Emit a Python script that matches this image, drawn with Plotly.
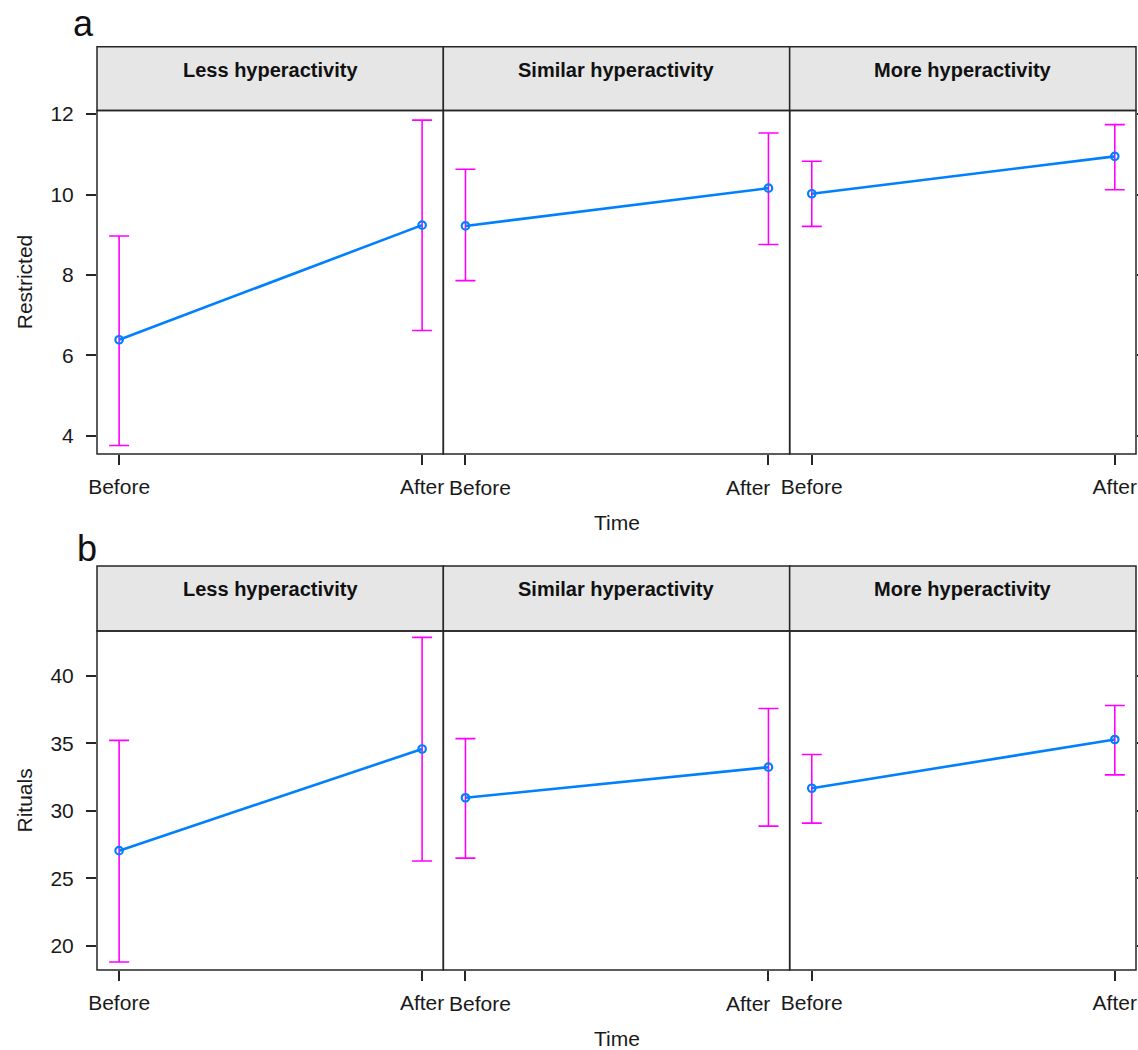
import plotly.graph_objects as go

W, H = 1138, 1050

# ---------------- data ----------------
categories = ["Before", "After"]
panel_titles = ["Less hyperactivity", "Similar hyperactivity", "More hyperactivity"]

restricted_mean = [[6.39, 9.24], [9.22, 10.16], [10.02, 10.95]]
restricted_lower = [[3.76, 6.62], [7.86, 8.76], [9.21, 10.12]]
restricted_upper = [[8.97, 11.85], [10.63, 11.53], [10.83, 11.74]]

rituals_mean = [[27.05, 34.59], [30.97, 33.24], [31.68, 35.29]]
rituals_lower = [[18.79, 26.28], [26.50, 28.87], [29.09, 32.67]]
rituals_upper = [[35.23, 42.87], [35.36, 37.59], [34.18, 37.81]]

restricted_ticks = [4, 6, 8, 10, 12]
rituals_ticks = [20, 25, 30, 35, 40]

# ---------------- layout geometry (pixels) ----------------
LEFT, RIGHT = 97, 1136
PW = (RIGHT - LEFT) / 3.0
rows = [
    dict(label="a", ylab="Restricted", strip_top=46.7, plot_top=110.5, plot_bottom=454,
         yrange=[3.55, 12.09], ticks=restricted_ticks,
         mean=restricted_mean, lo=restricted_lower, hi=restricted_upper,
         letter_y=23.4, strip_text_y=69.7, time_y=522.6),
    dict(label="b", ylab="Rituals", strip_top=566, plot_top=631, plot_bottom=970,
         yrange=[18.2, 43.34], ticks=rituals_ticks,
         mean=rituals_mean, lo=rituals_lower, hi=rituals_upper,
         letter_y=548.4, strip_text_y=588.7, time_y=1038.6),
]

BLUE = "#0080ff"
MAGENTA = "#ff00ff"
AXC = "#262626"
TXT = "#1a1a1a"
FONT = "Liberation Sans, Arial, sans-serif"


def fx(p):
    return p / W


def fy(p):
    return 1 - p / H


fig = go.Figure()
layout = dict(
    width=W, height=H, margin=dict(l=0, r=0, t=0, b=0),
    paper_bgcolor="white", plot_bgcolor="white", showlegend=False,
    font=dict(family=FONT, size=21, color=TXT),
)
shapes = []
annotations = []

idx = 0
for r, row in enumerate(rows):
    for c in range(3):
        idx += 1
        sx = "" if idx == 1 else str(idx)
        xa, ya = "x" + sx, "y" + sx
        mean = row["mean"][c]
        err_hi = [h - m for h, m in zip(row["hi"][c], mean)]
        err_lo = [m - l for l, m in zip(row["lo"][c], mean)]
        fig.add_trace(go.Scatter(
            x=categories, y=mean, xaxis=xa, yaxis=ya, mode="lines+markers",
            line=dict(color=BLUE, width=2.6),
            marker=dict(symbol="circle-open", size=7.5, color=BLUE, line=dict(width=2.2, color=BLUE)),
            error_y=dict(type="data", symmetric=False, array=err_hi, arrayminus=err_lo,
                         color=MAGENTA, thickness=1.6, width=10),
            hoverinfo="skip",
        ))
        x0 = LEFT + c * PW
        x1 = x0 + PW
        layout["xaxis" + sx] = dict(
            domain=[fx(x0), fx(x1)], anchor=ya, type="category",
            range=[-0.073, 1.07], tickmode="array", tickvals=categories, ticktext=categories,
            ticks="outside", ticklen=10, tickwidth=1.5, tickcolor=AXC,
            showticklabels=(c != 1),
            showline=False, showgrid=False, zeroline=False, automargin=False, fixedrange=True,
            tickfont=dict(size=21, color=TXT), ticklabelstandoff=4,
        )
        yd = dict(
            domain=[fy(row["plot_bottom"]), fy(row["plot_top"])], anchor=xa,
            range=row["yrange"], tickmode="array", tickvals=row["ticks"],
            showline=False, showgrid=False, zeroline=False, automargin=False, fixedrange=True,
            tickfont=dict(size=21, color=TXT),
        )
        if c == 0:
            yd.update(ticks="outside", ticklen=10, tickwidth=1.5, tickcolor=AXC,
                      showticklabels=True, ticklabelstandoff=8)
        elif c == 2:
            yd.update(side="right", ticks="outside", ticklen=10, tickwidth=1.5,
                      tickcolor=AXC, showticklabels=False)
        else:
            yd.update(ticks="", showticklabels=False)
        layout["yaxis" + sx] = yd

        # middle panel: tick labels nudged apart from neighbours (as in the reference)
        if c == 1:
            for k, (cat, shift) in enumerate(zip(categories, [15, -20])):
                annotations.append(dict(text=cat, xref=xa, yref="paper", x=k,
                                        y=fy(row["plot_bottom"] + 33.5), xshift=shift,
                                        xanchor="center", yanchor="middle", showarrow=False,
                                        font=dict(family=FONT, size=21, color=TXT)))

        # panel box
        shapes.append(dict(type="rect", xref="paper", yref="paper",
                           x0=fx(x0), x1=fx(x1), y0=fy(row["plot_bottom"]), y1=fy(row["plot_top"]),
                           fillcolor="rgba(0,0,0,0)", line=dict(color=AXC, width=1.5), layer="above"))
        # strip
        shapes.append(dict(type="rect", xref="paper", yref="paper",
                           x0=fx(x0), x1=fx(x1), y0=fy(row["plot_top"]), y1=fy(row["strip_top"]),
                           fillcolor="#e6e6e6", line=dict(color=AXC, width=1.5), layer="below"))
        annotations.append(dict(text="<b>" + panel_titles[c] + "</b>", xref="paper", yref="paper",
                                x=fx((x0 + x1) / 2), y=fy(row["strip_text_y"]),
                                xanchor="center", yanchor="middle", showarrow=False,
                                font=dict(family=FONT, size=20, color="#111111")))

    # panel letter
    annotations.append(dict(text=row["label"], xref="paper", yref="paper",
                            x=fx(83 if r == 0 else 87), y=fy(row["letter_y"]),
                            xanchor="center", yanchor="middle", showarrow=False,
                            font=dict(family=FONT, size=36, color="#111111")))
    # y title
    annotations.append(dict(text=row["ylab"], xref="paper", yref="paper",
                            x=fx(24), y=fy((row["plot_top"] + row["plot_bottom"]) / 2),
                            xanchor="center", yanchor="middle", textangle=-90, showarrow=False,
                            font=dict(family=FONT, size=21, color=TXT)))
    # x title
    annotations.append(dict(text="Time", xref="paper", yref="paper",
                            x=fx((LEFT + RIGHT) / 2), y=fy(row["time_y"]),
                            xanchor="center", yanchor="middle", showarrow=False,
                            font=dict(family=FONT, size=21, color=TXT)))

layout["shapes"] = shapes
layout["annotations"] = annotations
fig.update_layout(**layout)
fig.write_html("out.html")
